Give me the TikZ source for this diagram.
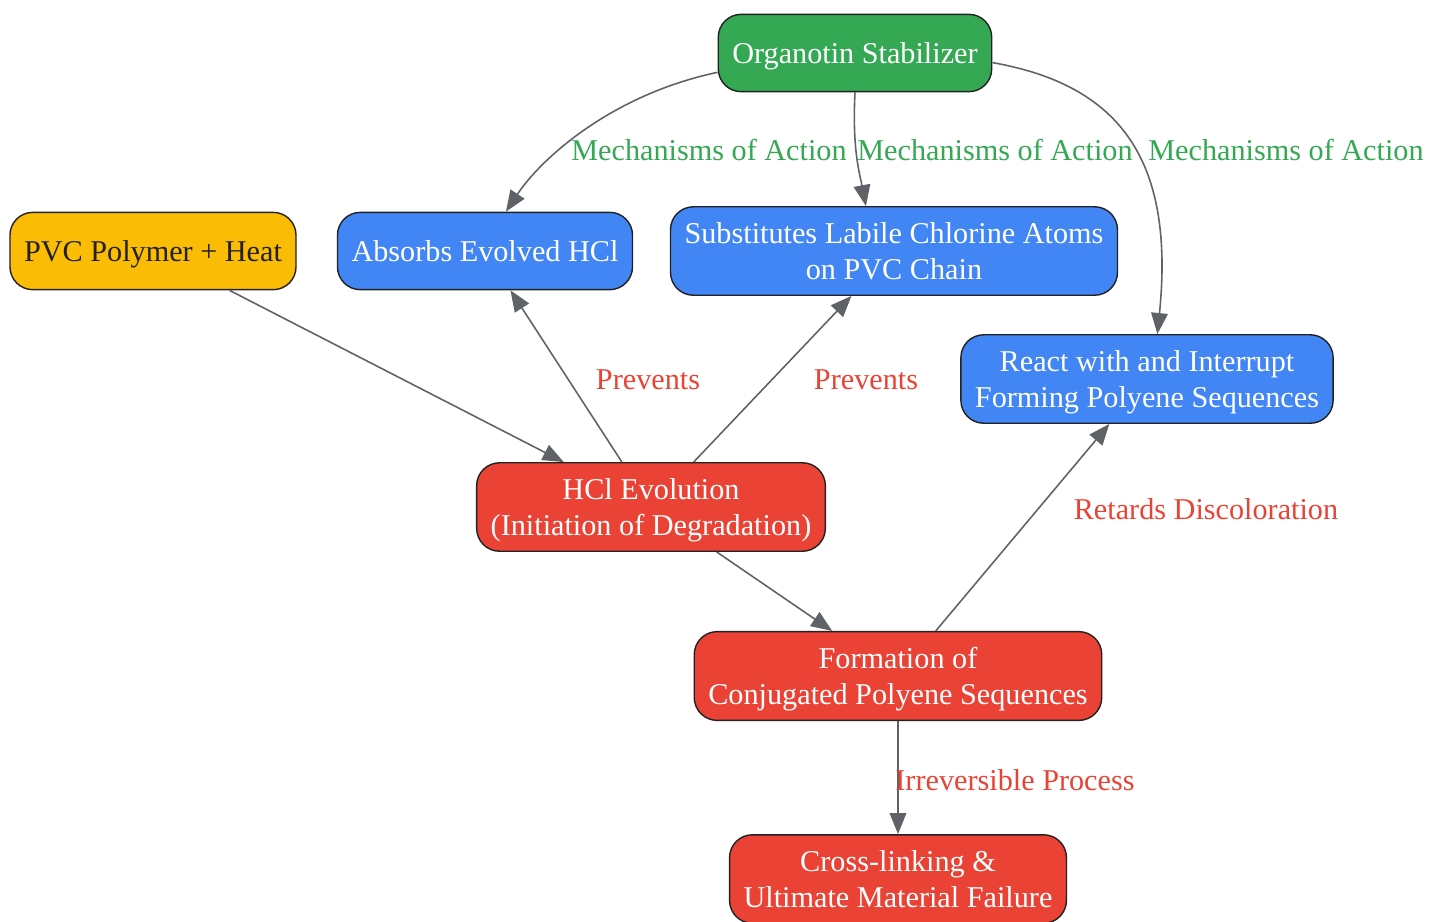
\documentclass[tikz,border=0pt]{standalone}
\usepackage{fontspec}
\setmainfont{Liberation Serif}
\usetikzlibrary{arrows.meta, positioning}
\definecolor{stabgreen}{HTML}{34A853}
\definecolor{actblue}{HTML}{4285F4}
\definecolor{degred}{HTML}{EA4335}
\definecolor{inyellow}{HTML}{FBBC05}
\definecolor{edgegray}{HTML}{5F6368}
\definecolor{boxline}{HTML}{222222}
\tikzset
{%
box/.style={draw=boxline, line width=0.8pt, rounded corners=13pt, align=center, inner xsep=8pt, inner ysep=9pt, text depth=0pt, minimum height=44pt, font=\fontsize{17.2}{20.4}\selectfont, text=white},
stab/.style={box, fill=stabgreen},
act/.style={box, fill=actblue},
deg/.style={box, fill=degred},
inp/.style={box, fill=inyellow, text=boxline},
flow/.style={-{Triangle[length=12pt, width=9.5pt]}, color=edgegray, line width=0.9pt},
glbl/.style={text=stabgreen, font=\fontsize{17.2}{20.4}\selectfont, inner sep=0pt},
rlbl/.style={text=degred, font=\fontsize{17.2}{20.4}\selectfont, inner sep=0pt}
}

\begin{document}
\begin{tikzpicture}[x=0.02cm, y=-0.02cm]
		\useasboundingbox (0,0) rectangle (1441,921);

		\node[stab] (org) at (855,53) {Organotin Stabilizer};
		\node[inp] (pvc) at (153,251) {PVC Polymer + Heat};
		\node[act] (abs) at (485,251) {Absorbs Evolved HCl};
		\node[act] (sub) at (894,251) {Substitutes Labile Chlorine Atoms\\on PVC Chain};
		\node[act] (rea) at (1147,379) {React with and Interrupt\\Forming Polyene Sequences};
		\node[deg] (hcl) at (651,507) {HCl Evolution\\(Initiation of Degradation)};
		\node[deg] (pol) at (898,676) {Formation of\\Conjugated Polyene Sequences};
		\node[deg] (fail) at (898,879) {Cross-linking \&\\Ultimate Material Failure};

		\draw[flow] (org.188) .. controls (610,95) and (540,160) .. (abs.62);
		\draw[flow] (org.south) .. controls (852,150) and (860,175) .. (sub.122);
		\draw[flow] (org.-4) .. controls (1120,85) and (1175,160) .. (rea.77);
		\path[flow] (pvc) edge (hcl) (hcl) edge (abs) (hcl) edge (sub)
			(hcl) edge (pol) (pol) edge (rea) (pol) edge (fail);

		\node[glbl] (m1) at (709,150) {Mechanisms of Action};
		\node[glbl] (m2) at (995,150) {Mechanisms of Action};
		\node[glbl] (m3) at (1286,150) {Mechanisms of Action};
		\node[rlbl] (p1) at (648,380) {Prevents};
		\node[rlbl] (p2) at (866,380) {Prevents};
		\node[rlbl] (rd) at (1206,509) {Retards Discoloration};
		\node[rlbl] (ip) at (1015,780) {Irreversible Process};
	\end{tikzpicture}
\end{document}
